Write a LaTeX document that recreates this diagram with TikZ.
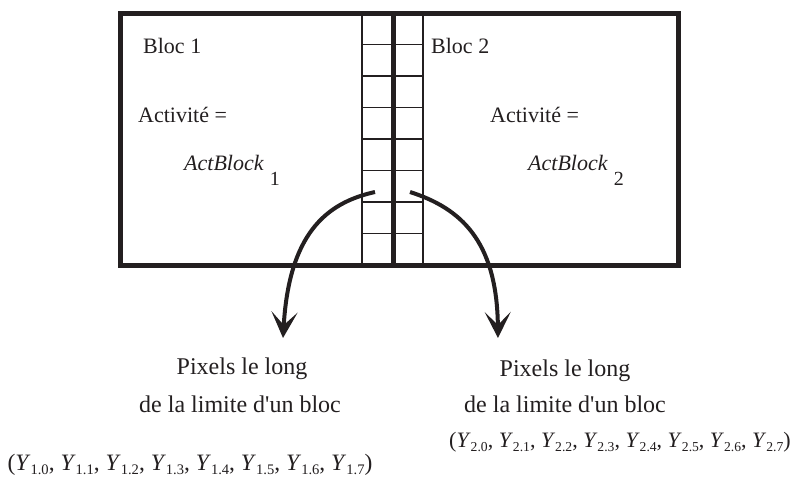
\documentclass[tikz,border=0pt]{standalone}
\usepackage{fontspec}
\setmainfont{Liberation Serif}
\usetikzlibrary{arrows.meta}
\definecolor{ink}{HTML}{231F20}
\newcommand{\Ysb}[1]{\textit{Y}\raisebox{-0.21em}{\fontsize{0.62em}{0.62em}\selectfont #1}}
\newcommand{\actsub}[1]{\hspace{6pt}\raisebox{-15pt}{\fontsize{20}{20}\selectfont #1}}
\begin{document}
\begin{tikzpicture}[x=1pt,y=-1pt,
  thickbox/.style={line width=5pt, draw=ink},
  gridline/.style={line width=1.5pt, draw=ink},
  blocktext/.style={font=\fontsize{22}{26}\selectfont, text=ink, inner sep=0pt, anchor=base west},
  bottomtext/.style={font=\fontsize{24}{28}\selectfont, text=ink, inner sep=0pt, anchor=base},
  curvearrow/.style={line width=4pt, draw=ink, -{Stealth[length=26pt,width=26pt,inset=13pt]}}
]
\useasboundingbox (0,0) rectangle (804,480);
\fill[white] (0,0) rectangle (804,480);
% boundary pixel grid
\foreach \yy in {44.5,76,107.5,139,170.5,202,233.5}
  \draw[gridline] (362,\yy) -- (423,\yy);
\draw[gridline] (362,13) -- (362,265);
\draw[gridline] (423,13) -- (423,265);
% blocks
\draw[thickbox] (120,13) rectangle (678,265);
\draw[thickbox] (393,13) -- (393,265);
% block texts
\node[blocktext] (b1) at (143,53) {Bloc 1};
\node[blocktext] (a1) at (138,122) {Activité =};
\node[blocktext] (ab1) at (184,170) {\textit{ActBlock}\actsub{1}};
\node[blocktext] (b2) at (431,53) {Bloc 2};
\node[blocktext] (a2) at (490,122) {Activité =};
\node[blocktext] (ab2) at (528,170) {\textit{ActBlock}\actsub{2}};
% arrow ends
\coordinate (s1) at (375,192);
\coordinate (e1) at (283,338);
\coordinate (s2) at (410,192);
\coordinate (e2) at (498,338);
\draw[curvearrow] (s1) .. controls (325,203) and (289,235) .. (e1);
\draw[curvearrow] (s2) .. controls (460,208) and (497,240) .. (e2);
% bottom texts
\node[bottomtext] (p1) at (242,374) {Pixels le long};
\node[bottomtext] (d1) at (240,412) {de la limite d\textquotesingle un bloc};
\node[bottomtext, font=\fontsize{23.5}{28}\selectfont] (y1) at (190,470) {(\Ysb{1.0}, \Ysb{1.1}, \Ysb{1.2}, \Ysb{1.3}, \Ysb{1.4}, \Ysb{1.5}, \Ysb{1.6}, \Ysb{1.7})};
\node[bottomtext] (p2) at (565,376) {Pixels le long};
\node[bottomtext] (d2) at (565,412) {de la limite d\textquotesingle un bloc};
\node[bottomtext, font=\fontsize{22}{26}\selectfont] (y2) at (620,447) {(\Ysb{2.0}, \Ysb{2.1}, \Ysb{2.2}, \Ysb{2.3}, \Ysb{2.4}, \Ysb{2.5}, \Ysb{2.6}, \Ysb{2.7})};
\end{tikzpicture}
\end{document}
